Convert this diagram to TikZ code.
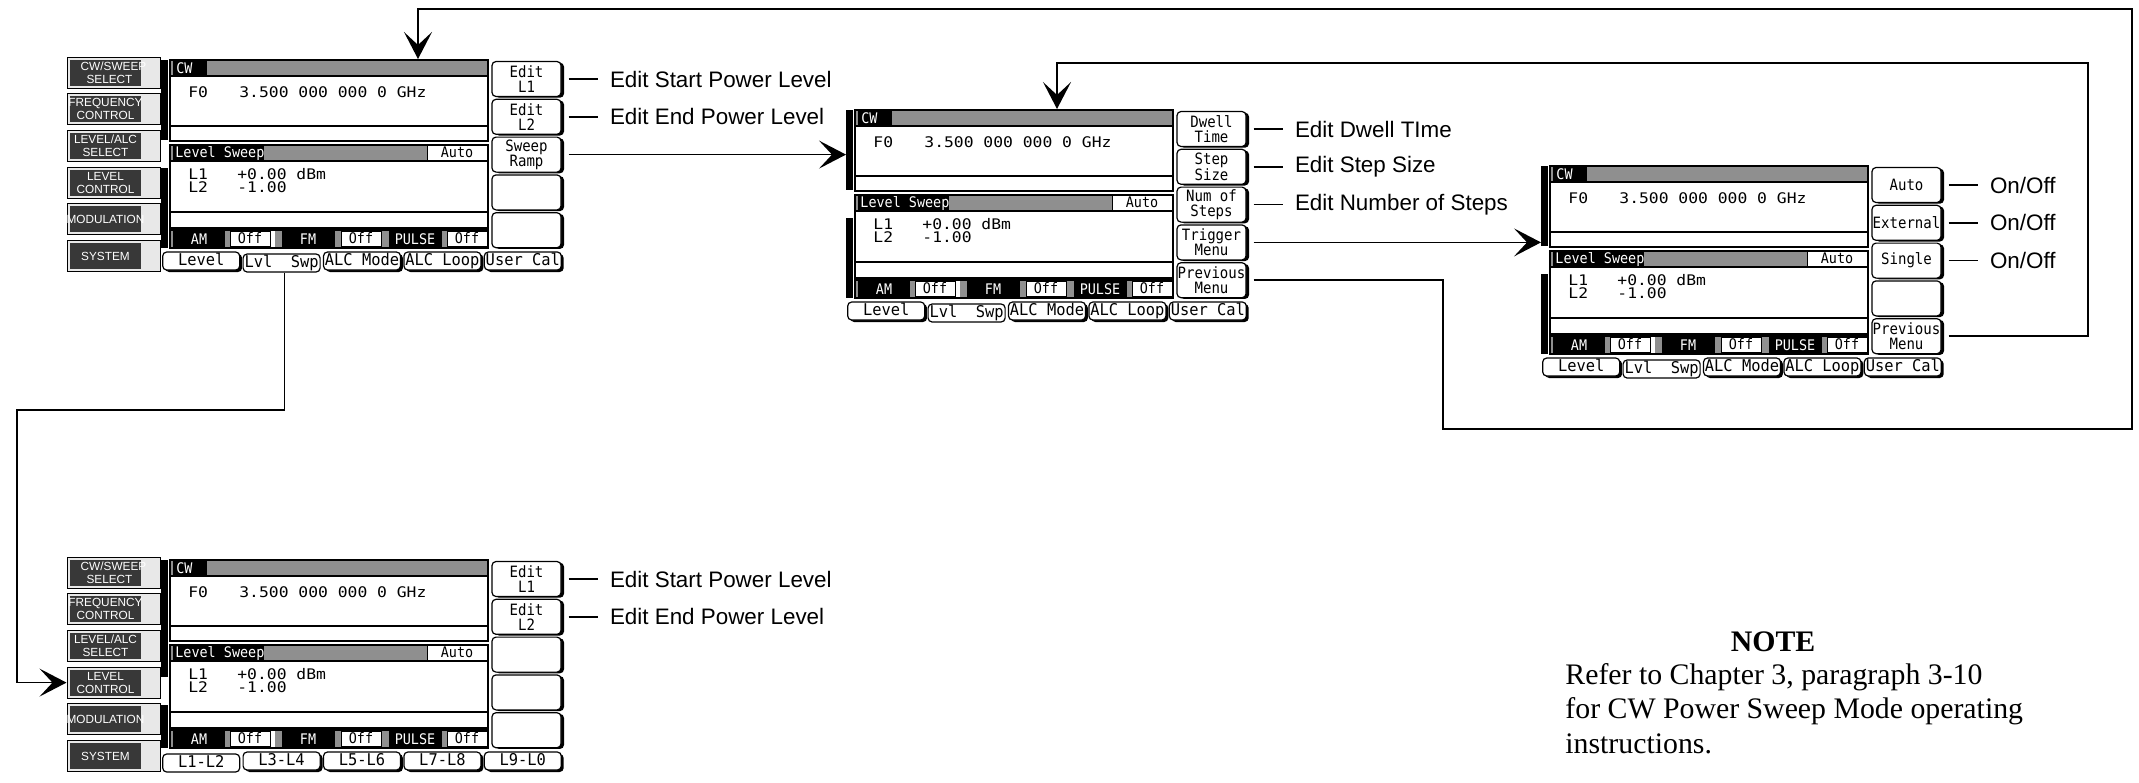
\documentclass[tikz,border=0pt]{standalone}
\usepackage{fontspec}
\setmainfont{Liberation Sans}
\newfontfamily\scr[FakeStretch=0.92]{DejaVu Sans Mono}
\newfontfamily\scrk[FakeStretch=0.9]{DejaVu Sans Mono}
\newfontfamily\scrt[FakeStretch=0.95]{DejaVu Sans Mono}
\newfontfamily\scrw[FakeStretch=1.12]{DejaVu Sans Mono}
\newfontfamily\notef{Liberation Serif}
\usetikzlibrary{arrows.meta,shadows}
\definecolor{dotg}{gray}{0.56}
\definecolor{hkdark}{gray}{0.22}
\definecolor{hklight}{gray}{0.91}
\tikzset{
 scrtx/.style={font=\scr\fontsize{7.3pt}{8pt}\selectfont, inner sep=0pt},
 scrwt/.style={font=\scrw\fontsize{7.3pt}{8pt}\selectfont, inner sep=0pt},
 frame/.style={draw=black, line width=0.85pt},
 thinl/.style={draw=black, line width=0.6pt},
 offbox/.style={scrtx, fill=white, draw=black, line width=0.4pt, minimum width=20pt, minimum height=7.5pt, text height=5pt, text depth=1pt},
 softkey/.style={draw=black, line width=0.6pt, fill=white, rounded corners=2pt,
   minimum width=34.5pt, minimum height=17.5pt, inner sep=0pt, align=center,
   font=\scrk\fontsize{7.8pt}{7.6pt}\selectfont,
   general shadow={fill=black, shadow xshift=1.5pt, shadow yshift=-0.6pt}},
 tabbase/.style={draw=black, line width=0.6pt, fill=white, rounded corners=2pt,
   minimum width=38.5pt, minimum height=9pt, inner sep=0pt, text height=5.6pt, text depth=1.6pt,
   font=\scrt\fontsize{8.1pt}{8.5pt}\selectfont},
 tabk/.style={tabbase, general shadow={fill=black, shadow xshift=1.2pt, shadow yshift=-1pt}},
 tabsel/.style={tabbase},
 hkout/.style={draw=black, line width=0.5pt, fill=hklight, minimum width=46.5pt, minimum height=15.5pt, inner sep=0pt},
 hktext/.style={text=white, align=center, inner sep=0pt, font=\fontsize{5.9pt}{6.4pt}\selectfont},
 callout/.style={anchor=west, inner xsep=6pt, inner ysep=0pt, font=\fontsize{11.2pt}{13pt}\selectfont},
 cline/.style={line width=0.7pt},
 conn/.style={line width=0.85pt},
 arr/.style={conn, -{Stealth[length=13.5pt,width=14pt,inset=6.5pt]}},
 notet/.style={inner sep=0pt, font=\notef\fontsize{14.9pt}{18pt}\selectfont},
}
% screen body: name, x, y, gap start, gap end
\newcommand\drawscreen[5]{%
\begin{scope}[shift={(#2,#3)}]
 \node[fill=black,inner sep=0pt,minimum width=3.5pt,minimum height={#4*0.5pt},anchor=north west] (#1-bar) at (0,0) {};
 \fill (0,#5) rectangle (7,188);
 \fill[dotg] (9,0) rectangle (327,16);
 \fill (12,0) rectangle (46,16);
 \node[scrtx,text=white,anchor=west] (#1-cw) at (15,8.5) {CW};
 \draw[frame] (9,0) rectangle (327,81);
 \draw[thinl] (9,16) -- (327,16) (9,66) -- (327,66);
 \node[scrwt,anchor=west] (#1-f0) at (27,32) {F0};
 \node[scrwt,anchor=west] (#1-fq) at (78,32) {3.500 000 000 0 GHz};
 \fill[dotg] (9,85) rectangle (327,101);
 \fill (12,85) rectangle (103,101);
 \node[scrtx,text=white,anchor=west] (#1-lsw) at (14,93.5) {Level Sweep};
 \node[offbox,minimum width=30pt] (#1-auto) at (296,93) {Auto};
 \node[scrwt,anchor=west] (#1-l1) at (27,114) {L1};
 \node[scrwt,anchor=west] (#1-v1) at (76,114) {+0.00 dBm};
 \node[scrwt,anchor=west] (#1-l2) at (27,127) {L2};
 \node[scrwt,anchor=west] (#1-v2) at (76,127) {-1.00};
 \fill[dotg] (9,170) rectangle (327,188);
 \fill (12,170) rectangle (64,188);
 \node[scrtx,text=white] (#1-am) at (38,179.5) {AM};
 \node[offbox] (#1-o1) at (89,179) {Off};
 \fill[white] (110,170) rectangle (114,188);
 \fill (121,170) rectangle (174,188);
 \node[scrtx,text=white] (#1-fm) at (147,179.5) {FM};
 \node[offbox] (#1-o2) at (200,179) {Off};
 \fill (228,170) rectangle (281,188);
 \node[scrtx,text=white] (#1-pu) at (254,179.5) {PULSE};
 \node[offbox] (#1-o3) at (306,179) {Off};
 \draw[frame] (9,85) rectangle (327,188);
 \draw[thinl] (9,101) -- (327,101) (9,152) -- (327,152) (9,168) -- (327,168) (9,170) -- (327,170);
\end{scope}}
\newcommand\skey[5]{% name, x, y, index, label
 \node[softkey] (#1) at ({#2+365.5},{#3+19+37.8*(#4-1)}) {#5};}
\newcommand\tabk[6]{% name, x, y, index, selected?, label
 \ifnum#5=1
  \node[tabsel] (#1) at ({#2+40.2+80.4*(#4-1)},{#3+203}) {#6};
 \else
  \node[tabk] (#1) at ({#2+40.2+80.4*(#4-1)},{#3+201}) {#6};
 \fi}
\newcommand\hk[4]{% name, x, y(center), text
 \node[hkout] (#1) at ({#2-47.5},#3) {};
 \fill[hkdark] ({#2-91},{#3-13}) rectangle ({#2-20},{#3+13});
 \node[hktext] (#1-t) at ({#2-55.5},#3) {#4};}
\newcommand\hardkeys[3]{% name, x, y
 \hk{#1-b1}{#2}{#3+12.5}{\hspace*{8pt}CW/SWEEP\\\hspace*{4pt}SELECT}
 \hk{#1-b2}{#2}{#3+49.2}{FREQUENCY\\CONTROL}
 \hk{#1-b3}{#2}{#3+85.9}{LEVEL/ALC\\SELECT}
 \hk{#1-b4}{#2}{#3+122.6}{LEVEL\\CONTROL}
 \hk{#1-b5}{#2}{#3+159.3}{MODULATION}
 \hk{#1-b6}{#2}{#3+196}{SYSTEM}}
\begin{document}
\begin{tikzpicture}[x=0.5pt,y=-0.5pt]
\useasboundingbox (0,0) rectangle (2139,782);
% ---------- top-left screen ----------
\hardkeys{tl}{161}{60}
\drawscreen{tl}{161}{60}{80}{108}
\skey{tl-k1}{161}{60}{1}{Edit\\L1}
\skey{tl-k2}{161}{60}{2}{Edit\\L2}
\skey{tl-k3}{161}{60}{3}{Sweep\\Ramp}
\skey{tl-k4}{161}{60}{4}{}
\skey{tl-k5}{161}{60}{5}{}
\tabk{tl-t1}{161}{60}{1}{0}{Level}
\tabk{tl-t2}{161}{60}{2}{1}{Lvl\ \ Swp}
\tabk{tl-t3}{161}{60}{3}{0}{ALC Mode}
\tabk{tl-t4}{161}{60}{4}{0}{ALC Loop}
\tabk{tl-t5}{161}{60}{5}{0}{User Cal}
% ---------- middle screen ----------
\drawscreen{mid}{846}{110}{80}{108}
\skey{mid-k1}{846}{110}{1}{Dwell\\Time}
\skey{mid-k2}{846}{110}{2}{Step\\Size}
\skey{mid-k3}{846}{110}{3}{Num of\\Steps}
\skey{mid-k4}{846}{110}{4}{Trigger\\Menu}
\skey{mid-k5}{846}{110}{5}{Previous\\Menu}
\tabk{mid-t1}{846}{110}{1}{0}{Level}
\tabk{mid-t2}{846}{110}{2}{1}{Lvl\ \ Swp}
\tabk{mid-t3}{846}{110}{3}{0}{ALC Mode}
\tabk{mid-t4}{846}{110}{4}{0}{ALC Loop}
\tabk{mid-t5}{846}{110}{5}{0}{User Cal}
% ---------- right screen ----------
\drawscreen{rt}{1541}{166}{80}{108}
\skey{rt-k1}{1541}{166}{1}{Auto}
\skey{rt-k2}{1541}{166}{2}{External}
\skey{rt-k3}{1541}{166}{3}{Single}
\skey{rt-k4}{1541}{166}{4}{}
\skey{rt-k5}{1541}{166}{5}{Previous\\Menu}
\tabk{rt-t1}{1541}{166}{1}{0}{Level}
\tabk{rt-t2}{1541}{166}{2}{1}{Lvl\ \ Swp}
\tabk{rt-t3}{1541}{166}{3}{0}{ALC Mode}
\tabk{rt-t4}{1541}{166}{4}{0}{ALC Loop}
\tabk{rt-t5}{1541}{166}{5}{0}{User Cal}
% ---------- bottom screen ----------
\hardkeys{bt}{161}{560}
\drawscreen{bt}{161}{560}{117}{145}
\skey{bt-k1}{161}{560}{1}{Edit\\L1}
\skey{bt-k2}{161}{560}{2}{Edit\\L2}
\skey{bt-k3}{161}{560}{3}{}
\skey{bt-k4}{161}{560}{4}{}
\skey{bt-k5}{161}{560}{5}{}
\tabk{bt-t1}{161}{560}{1}{1}{L1-L2}
\tabk{bt-t2}{161}{560}{2}{0}{L3-L4}
\tabk{bt-t3}{161}{560}{3}{0}{L5-L6}
\tabk{bt-t4}{161}{560}{4}{0}{L7-L8}
\tabk{bt-t5}{161}{560}{5}{0}{L9-L0}
% ---------- callouts ----------
\node[callout] (tl-c1) at ([xshift=18pt]tl-k1.east) {Edit Start Power Level};
\node[callout] (tl-c2) at ([xshift=18pt]tl-k2.east) {Edit End Power Level};
\node[callout] (mid-c1) at ([xshift=18pt]mid-k1.east) {Edit Dwell TIme};
\node[callout] (mid-c2) at ([xshift=18pt]mid-k2.east) {Edit Step Size};
\node[callout] (mid-c3) at ([xshift=18pt]mid-k3.east) {Edit Number of Steps};
\node[callout] (rt-c1) at ([xshift=18pt]rt-k1.east) {On/Off};
\node[callout] (rt-c2) at ([xshift=18pt]rt-k2.east) {On/Off};
\node[callout] (rt-c3) at ([xshift=18pt]rt-k3.east) {On/Off};
\node[callout] (bt-c1) at ([xshift=18pt]bt-k1.east) {Edit Start Power Level};
\node[callout] (bt-c2) at ([xshift=18pt]bt-k2.east) {Edit End Power Level};
\foreach \k/\c in {tl-k1/tl-c1,tl-k2/tl-c2,mid-k1/mid-c1,mid-k2/mid-c2,mid-k3/mid-c3,rt-k1/rt-c1,rt-k2/rt-c2,rt-k3/rt-c3,bt-k1/bt-c1,bt-k2/bt-c2}
  \draw[cline] ([xshift=3.5pt]\k.east) -- (\c.west);
% ---------- connectors ----------
\coordinate (tl-in) at (418,59);
\coordinate (mid-in) at (1057,109);
\coordinate (lpA) at (1443,429);
\coordinate (lpB) at (2132,9);
\coordinate (lpC) at (2088,63);
\coordinate (lpD) at (17,410);
\draw[arr] ([xshift=3.5pt]tl-k3.east) -- (tl-k3.east -| mid-bar.west);
\draw[arr] ([xshift=3.5pt]mid-k4.east) -- (mid-k4.east -| rt-bar.west);
\draw[arr] ([xshift=3.5pt]mid-k5.east) -| (lpA) -| (lpB) -| (tl-in);
\draw[arr] ([xshift=3.5pt]rt-k5.east) -| (lpC) -| (mid-in);
\draw[arr] ([xshift=1.5pt]tl-t2.south) |- (lpD) |- (bt-b4.west);
% ---------- note ----------
\node[notet,font=\notef\bfseries\fontsize{14.9pt}{18pt}\selectfont,anchor=base] (note-h) at (1773,651) {NOTE};
\node[notet,anchor=base west] (note-1) at (1565,684) {Refer to Chapter 3, paragraph 3-10};
\node[notet,anchor=base west] (note-2) at (1565,718) {for CW Power Sweep Mode operating};
\node[notet,anchor=base west] (note-3) at (1565,753) {instructions.};
\end{tikzpicture}
\end{document}
